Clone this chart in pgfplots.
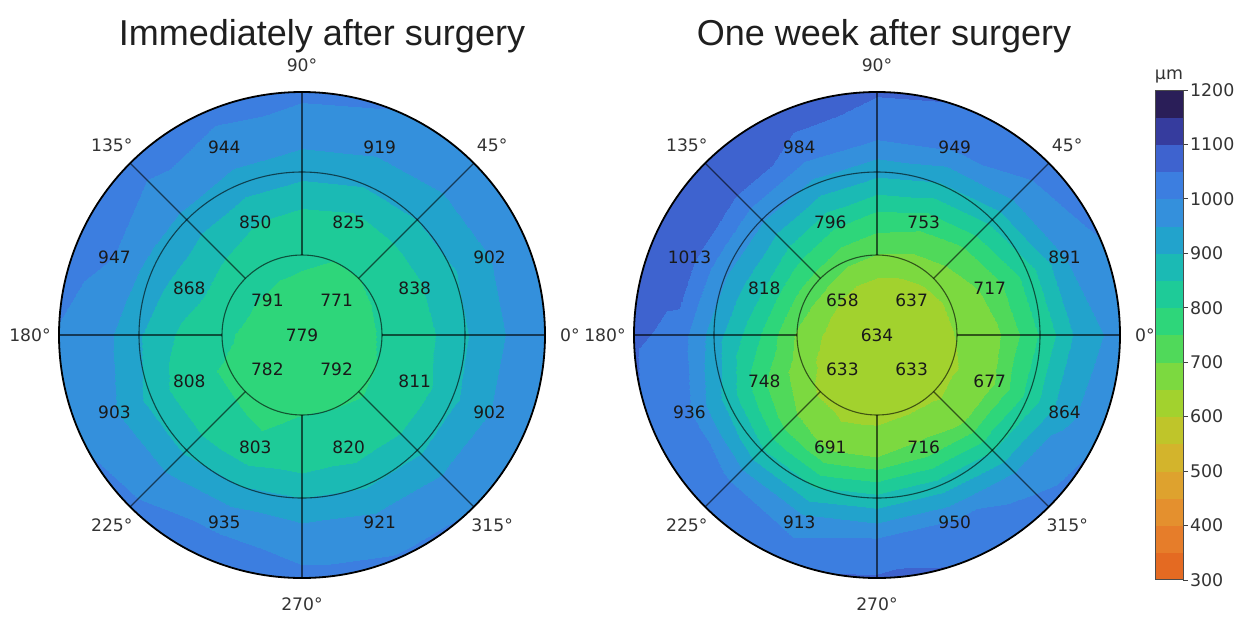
\documentclass[border=0pt]{standalone}
\usepackage{fontspec}
\setmainfont{DejaVu Sans}
\newfontfamily\titlefont{Liberation Sans}
\usepackage{pgfplots}
\usepackage{pgfplotstable}
\pgfplotsset{compat=1.18}

% 18 bands of 50 um from 300 to 1200
\pgfplotsset{
  colormap={thk}{
    rgb255=(228,106,34) rgb255=(230,125,42) rgb255=(228,144,46) rgb255=(222,162,46)
    rgb255=(211,180,44) rgb255=(191,197,42) rgb255=(162,210,46) rgb255=(124,217,64)
    rgb255=(80,217,90) rgb255=(46,214,122) rgb255=(30,203,152) rgb255=(27,186,180)
    rgb255=(34,163,204) rgb255=(52,144,220) rgb255=(60,126,224) rgb255=(62,99,207)
    rgb255=(54,60,158) rgb255=(42,30,88)},
  mapax/.style={x=0.5pt,y=0.5pt,xmin=-250,xmax=250,ymin=-250,ymax=250,
    hide axis,clip=false,anchor=center},
  gl/.style={data cs=polar,black,opacity=0.6,line width=0.55pt,forget plot},
  lab/.style={data cs=polar,only marks,mark=o,mark size=0pt,mark options={draw=none},
    point meta=explicit symbolic,nodes near coords,nodes near coords align={center},
    every node near coord/.append style={font=\fontsize{8.5}{10}\selectfont,text=black!90,inner sep=0pt,anchor=center}},
  ang/.style={data cs=polar,only marks,mark=o,mark size=0pt,mark options={draw=none},
    point meta=explicit symbolic,nodes near coords,nodes near coords align={center},
    every node near coord/.append style={font=\fontsize{8.6}{10}\selectfont,text=black!80,inner sep=0pt,anchor=center}},
}

% field estimates read from the colours: angle (deg), radius (px), thickness (um)
\pgfplotstableread{
a r v
0 0 780
22.5 0 780
45 0 780
67.5 0 780
90 0 780
112.5 0 780
135 0 780
157.5 0 780
180 0 780
202.5 0 780
225 0 780
247.5 0 780
270 0 780
292.5 0 780
315 0 780
337.5 0 780
360 0 780
0 49 780
22.5 49 775
45 49 770
67.5 49 775
90 49 785
112.5 49 790
135 49 795
157.5 49 792
180 49 785
202.5 49 780
225 49 780
247.5 49 785
270 49 788
292.5 49 786
315 49 780
337.5 49 778
360 49 780
0 80 805
22.5 80 805
45 80 800
67.5 80 800
90 80 815
112.5 80 820
135 80 825
157.5 80 825
180 80 810
202.5 80 795
225 80 795
247.5 80 790
270 80 800
292.5 80 800
315 80 797
337.5 80 800
360 80 805
0 122 832
22.5 122 838
45 122 838
67.5 122 832
90 122 842
112.5 122 852
135 122 862
157.5 122 868
180 122 842
202.5 122 812
225 122 812
247.5 122 808
270 122 818
292.5 122 822
315 122 820
337.5 122 818
360 122 832
0 163 895
22.5 163 895
45 163 900
67.5 163 905
90 163 915
112.5 163 925
135 163 935
157.5 163 930
180 163 905
202.5 163 885
225 163 890
247.5 163 900
270 163 900
292.5 163 895
315 163 890
337.5 163 890
360 163 895
0 203 950
22.5 203 950
45 203 955
67.5 203 965
90 203 975
112.5 203 985
135 203 995
157.5 203 1000
180 203 975
202.5 203 955
225 203 970
247.5 203 990
270 203 980
292.5 203 970
315 203 960
337.5 203 950
360 203 950
0 250 985
22.5 250 985
45 250 995
67.5 250 1005
90 250 1015
112.5 250 1015
135 250 1010
157.5 250 1020
180 250 1000
202.5 250 995
225 250 1020
247.5 250 1030
270 250 1015
292.5 250 1010
315 250 1005
337.5 250 990
360 250 985
}\leftfield

\pgfplotstableread{
a r v
0 0 622
22.5 0 622
45 0 622
67.5 0 622
90 0 622
112.5 0 622
135 0 622
157.5 0 622
180 0 622
202.5 0 622
225 0 622
247.5 0 622
270 0 622
292.5 0 622
315 0 622
337.5 0 622
360 0 622
0 49 632
22.5 49 628
45 49 625
67.5 49 628
90 49 633
112.5 49 640
135 49 648
157.5 49 648
180 49 640
202.5 49 627
225 49 620
247.5 49 617
270 49 617
292.5 49 619
315 49 620
337.5 49 625
360 49 632
0 80 652
22.5 80 657
45 80 668
67.5 80 682
90 80 698
112.5 80 712
135 80 728
157.5 80 718
180 80 692
202.5 80 667
225 80 642
247.5 80 632
270 80 634
292.5 80 642
315 80 637
337.5 80 642
360 80 652
0 122 695
22.5 122 715
45 122 745
67.5 122 770
90 122 795
112.5 122 820
135 122 840
157.5 122 850
180 122 815
202.5 122 755
225 122 715
247.5 122 690
270 122 700
292.5 122 715
315 122 695
337.5 122 685
360 122 695
0 163 805
22.5 163 825
45 163 865
67.5 163 895
90 163 915
112.5 163 935
135 163 955
157.5 163 955
180 163 925
202.5 163 885
225 163 855
247.5 163 845
270 163 865
292.5 163 875
315 163 845
337.5 163 815
360 163 805
0 203 920
22.5 203 950
45 203 985
67.5 203 1010
90 203 1020
112.5 203 1040
135 203 1065
157.5 203 1070
180 203 1040
202.5 203 1005
225 203 995
247.5 203 980
270 203 1000
292.5 203 1010
315 203 980
337.5 203 935
360 203 920
0 250 980
22.5 250 1005
45 250 1030
67.5 250 1050
90 250 1060
112.5 250 1070
135 250 1100
157.5 250 1080
180 250 1060
202.5 250 1045
225 250 1060
247.5 250 1040
270 250 1065
292.5 250 1050
315 250 1025
337.5 250 995
360 250 980
}\rightfield

% sector values
\pgfplotstableread{
a r v
0 0 779
45 49 771
135 49 791
225 49 782
315 49 792
22.5 122 838
67.5 122 825
112.5 122 850
157.5 122 868
202.5 122 808
247.5 122 803
292.5 122 820
337.5 122 811
22.5 203 902
67.5 203 919
112.5 203 944
157.5 203 947
202.5 203 903
247.5 203 935
292.5 203 921
337.5 203 902
}\leftlab

\pgfplotstableread{
a r v
0 0 634
45 49 637
135 49 658
225 49 633
315 49 633
22.5 122 717
67.5 122 753
112.5 122 796
157.5 122 818
202.5 122 748
247.5 122 691
292.5 122 716
337.5 122 677
22.5 203 891
67.5 203 949
112.5 203 984
157.5 203 1013
202.5 203 936
247.5 203 913
292.5 203 950
337.5 203 864
}\rightlab

\pgfplotstableread{
a r t
0 268 0°
45 269 45°
90 270 90°
135 269 135°
180 272 180°
225 269 225°
270 269 270°
315 269 315°
}\angtab

\begin{document}
\begin{tikzpicture}
\path[use as bounding box] (0,0) rectangle (625pt,-308.5pt);

% ---------- left map ----------
\begin{scope}
\clip (151pt,-167.5pt) circle (121.5pt);
\begin{axis}[mapax,at={(151pt,-167.5pt)},colormap name=thk,colormap access=piecewise constant,
  point meta min=300,point meta max=1200]
\addplot[surf,shader=interp,mesh/rows=7,mesh/cols=17,data cs=polar,point meta=explicit]
  table[x=a,y=r,meta=v]{\leftfield};
\end{axis}
\end{scope}
\begin{axis}[mapax,at={(151pt,-167.5pt)}]
\addplot[gl] coordinates {(0,80) (0,243)};
\addplot[gl] coordinates {(45,80) (45,243)};
\addplot[gl] coordinates {(90,80) (90,243)};
\addplot[gl] coordinates {(135,80) (135,243)};
\addplot[gl] coordinates {(180,80) (180,243)};
\addplot[gl] coordinates {(225,80) (225,243)};
\addplot[gl] coordinates {(270,80) (270,243)};
\addplot[gl] coordinates {(315,80) (315,243)};
\draw[black,opacity=0.6,line width=0.55pt] (axis cs:0,0) circle[radius=40pt];
\draw[black,opacity=0.6,line width=0.55pt] (axis cs:0,0) circle[radius=81.5pt];
\draw[black,line width=0.9pt] (axis cs:0,0) circle[radius=121.5pt];
\addplot[lab] table[x=a,y=r,meta=v]{\leftlab};
\addplot[ang] table[x=a,y=r,meta=t]{\angtab};
\end{axis}

% ---------- right map ----------
\begin{scope}
\clip (438.5pt,-167.5pt) circle (121.5pt);
\begin{axis}[mapax,at={(438.5pt,-167.5pt)},colormap name=thk,colormap access=piecewise constant,
  point meta min=300,point meta max=1200]
\addplot[surf,shader=interp,mesh/rows=7,mesh/cols=17,data cs=polar,point meta=explicit]
  table[x=a,y=r,meta=v]{\rightfield};
\end{axis}
\end{scope}
\begin{axis}[mapax,at={(438.5pt,-167.5pt)}]
\addplot[gl] coordinates {(0,80) (0,243)};
\addplot[gl] coordinates {(45,80) (45,243)};
\addplot[gl] coordinates {(90,80) (90,243)};
\addplot[gl] coordinates {(135,80) (135,243)};
\addplot[gl] coordinates {(180,80) (180,243)};
\addplot[gl] coordinates {(225,80) (225,243)};
\addplot[gl] coordinates {(270,80) (270,243)};
\addplot[gl] coordinates {(315,80) (315,243)};
\draw[black,opacity=0.6,line width=0.55pt] (axis cs:0,0) circle[radius=40pt];
\draw[black,opacity=0.6,line width=0.55pt] (axis cs:0,0) circle[radius=81.5pt];
\draw[black,line width=0.9pt] (axis cs:0,0) circle[radius=121.5pt];
\addplot[lab] table[x=a,y=r,meta=v]{\rightlab};
\addplot[ang] table[x=a,y=r,meta=t]{\angtab};
\end{axis}

% ---------- colour bar ----------
\begin{axis}[at={(577.5pt,-45pt)},anchor=north west,hide axis,scale only axis,
  width=0pt,height=0pt,colormap name=thk,colormap access=piecewise constant,
  point meta min=300,point meta max=1200,colorbar,colorbar shift/.style={},
  colorbar style={at={(parent axis.north east)},anchor=north west,xshift=0pt,yshift=0pt,
    scale only axis,width=14pt,height=245pt,
    ytick={300,400,500,600,700,800,900,1000,1100,1200},
    ytick pos=right,yticklabel pos=right,tick align=outside,major tick length=2.5pt,
    tick style={black!75,line width=0.4pt},axis line style={black!70,line width=0.5pt},
    yticklabel style={font=\fontsize{8.7}{10}\selectfont,text=black!80,xshift=-2.5pt},
    /pgf/number format/1000 sep={},/pgf/number format/assume math mode=true,
    title={µm},title style={font=\fontsize{8.7}{10}\selectfont,text=black!80,yshift=-6pt}}]
\addplot[draw=none] coordinates {(0,0)};
\end{axis}

% ---------- titles ----------
\node[anchor=base,font=\titlefont\fontsize{18}{21}\selectfont,text=black!88] at (161pt,-22.5pt) {Immediately after surgery};
\node[anchor=base,font=\titlefont\fontsize{18}{21}\selectfont,text=black!88] at (442pt,-22.5pt) {One week after surgery};
\end{tikzpicture}
\end{document}
